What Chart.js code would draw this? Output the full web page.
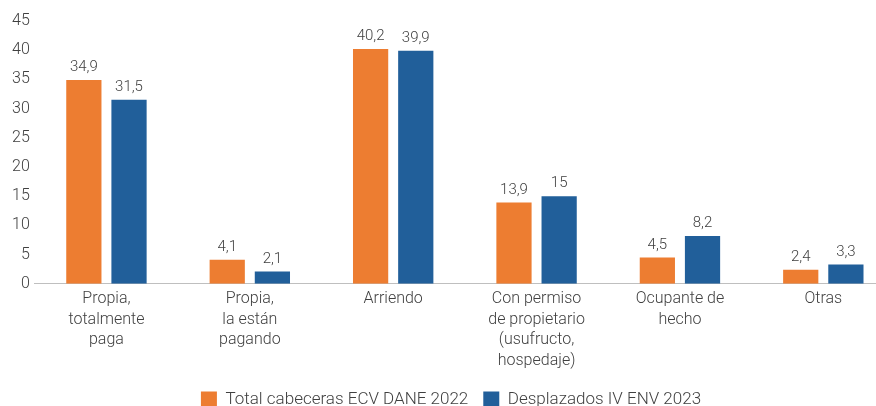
<!DOCTYPE html>
<html><head><meta charset="utf-8">
<script src="https://cdn.jsdelivr.net/npm/chart.js@4"></script>
<style>html,body{margin:0;padding:0;background:#fff;overflow:hidden;width:876px;height:406px}#wrap{width:895px;height:418px}</style>
</head><body><div id="wrap"><canvas id="c"></canvas></div>
<script>
const categories = [
  ["Propia,", "totalmente", "paga"],
  ["Propia,", "la están", "pagando"],
  ["Arriendo"],
  ["Con permiso", "de propietario", "(usufructo,", "hospedaje)"],
  ["Ocupante de", "hecho"],
  ["Otras"]
];
const seriesNames = ["Total cabeceras ECV DANE 2022", "Desplazados IV ENV 2023"];
const totalCabeceras = [34.9, 4.1, 40.2, 13.9, 4.5, 2.4];
const desplazados = [31.5, 2.1, 39.9, 15, 8.2, 3.3];
const yTicks = [0, 5, 10, 15, 20, 25, 30, 35, 40, 45];

const FONT = "Roboto";
const TXT = "#404040";

const labelPlugin = {
  id: "barLabels",
  afterDatasetsDraw(chart) {
    const ctx = chart.ctx;
    ctx.save();
    ctx.font = "300 15px " + FONT;
    ctx.fillStyle = TXT;
    ctx.textAlign = "center";
    ctx.textBaseline = "bottom";
    chart.data.datasets.forEach((ds, i) => {
      chart.getDatasetMeta(i).data.forEach((el, j) => {
        ctx.fillText(String(ds.data[j]).replace(".", ","), el.x, el.y - 5);
      });
    });
    ctx.restore();
  }
};

new Chart(document.getElementById("c"), {
  type: "bar",
  data: {
    labels: categories,
    datasets: [
      { label: seriesNames[0], data: totalCabeceras, backgroundColor: "#ED7D31" },
      { label: seriesNames[1], data: desplazados, backgroundColor: "#215F9A" }
    ]
  },
  options: {
    responsive: true,
    maintainAspectRatio: false,
    animation: false,
    layout: { padding: { top: 21, left: 7, right: 0, bottom: 0 } },
    datasets: { bar: { categoryPercentage: 0.63, barPercentage: 0.78 } },
    scales: {
      x: {
        grid: { display: false, drawTicks: false },
        border: { display: true, color: "#BFBFBF", width: 1 },
        ticks: { color: TXT, font: { family: FONT, size: 16, weight: 300, lineHeight: 1.3 }, padding: 4.5, maxRotation: 0, autoSkip: false }
      },
      y: {
        min: 0, max: 45,
        afterBuildTicks(axis) { axis.ticks = yTicks.map(v => ({ value: v })); },
        grid: { display: false, drawTicks: false },
        border: { display: false },
        ticks: { color: TXT, font: { family: FONT, size: 16, weight: 300 }, padding: 5 }
      }
    },
    plugins: {
      legend: {
        position: "bottom",
        labels: { color: TXT, font: { family: FONT, size: 17, weight: 300 }, boxWidth: 16, boxHeight: 16, padding: 15 }
      },
      tooltip: { enabled: false }
    }
  },
  plugins: [labelPlugin]
});
</script></body></html>
